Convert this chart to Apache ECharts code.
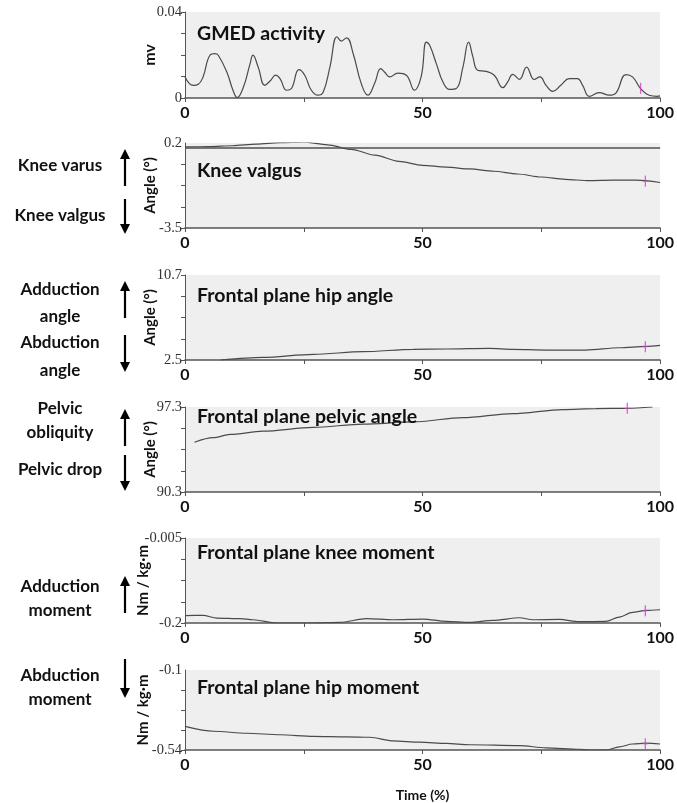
<!DOCTYPE html>
<html><head><meta charset="utf-8">
<script src="https://cdn.jsdelivr.net/npm/echarts@6/dist/echarts.min.js"></script>
<style>html,body{margin:0;padding:0;background:#fff}#c{width:677px;height:803px}</style>
</head><body><div id="c"></div>
<script>
// ---------- data ----------
const xTickValues = [0, 25, 50, 75, 100];
const xLabelValues = [0, 50, 100];
const titles = ['GMED activity', 'Knee valgus', 'Frontal plane hip angle', 'Frontal plane pelvic angle', 'Frontal plane knee moment', 'Frontal plane hip moment'];
const yNames = ['mv', 'Angle (°)', 'Angle (°)', 'Angle (°)', 'Nm / kg·m', 'Nm / kg·m'];
const yMin = [0, -3.5, 2.5, 90.3, -0.2, -0.54];
const yMax = [0.04, 0.2, 10.7, 97.3, -0.005, -0.1];
const yMinLabels = ['0', '-3.5', '2.5', '90.3', '-0.2', '-0.54'];
const yMaxLabels = ['0.04', '0.2', '10.7', '97.3', '-0.005', '-0.1'];
const xAxisName = 'Time (%)';

const gmed = [[0,0.0098],[1.75,0.0059],[2.8,0.0064],[3.8,0.0098],[5.25,0.0199],[6.3,0.0206],[7.0,0.0199],[8.8,0.0121],[10.1,0.0036],[11,0.0002],[12.3,0.0051],[13.7,0.016],[14.3,0.0199],[15.4,0.0144],[16.8,0.0059],[17.9,0.0079],[19.1,0.0106],[20,0.009],[21.4,0.0036],[22.4,0.0044],[24,0.0132],[25.2,0.0106],[26.6,0.0036],[28,0.0013],[29.1,0.0028],[30.5,0.0144],[32,0.0285],[32.9,0.0265],[34,0.028],[35.4,0.0206],[37.1,0.0067],[38.5,0.0013],[39.9,0.0067],[41.2,0.0137],[42,0.0121],[43.1,0.0098],[44.8,0.0116],[46.6,0.0106],[48.3,0.0036],[49.7,0.0098],[50.8,0.026],[51.5,0.0245],[52.9,0.016],[54.3,0.0074],[55.7,0.004],[57.1,0.0044],[58.5,0.0144],[59.7,0.026],[60.6,0.0191],[61.6,0.0129],[63.4,0.0124],[65.1,0.0106],[66.9,0.0048],[67.9,0.0074],[69,0.011],[70.4,0.0087],[71.9,0.0144],[73.5,0.0086],[74.7,0.0098],[76,0.0059],[77.4,0.0031],[79.1,0.0059],[80.9,0.009],[82.6,0.009],[83.7,0.0059],[85.1,0.0008],[87.2,0.0025],[89.3,0.0013],[90.7,0.0023],[92.8,0.0109],[94.2,0.0098],[95.9,0.0044],[97.7,0.0013],[99.4,0.0008],[100,0.001]];
const kneeAngleX = [0,5,10,15,20,25,30,35,40,45,50,55,60,65,70,75,80,85,90,95,100];
const kneeAngle = [0.03,0.04,0.08,0.15,0.22,0.24,0.12,-0.08,-0.33,-0.6,-0.77,-0.85,-0.93,-1.03,-1.15,-1.28,-1.38,-1.44,-1.42,-1.42,-1.52];
const kneeRefValue = 0;
const hipAngle = [[7.5,2.5],[16.4,2.76],[27,3.05],[37.5,3.3],[48,3.53],[55,3.56],[64,3.62],[69,3.53],[76,3.46],[84.4,3.46],[91.4,3.68],[97,3.82],[100,3.92]];
const pelvicAngle = [[2,94.4],[5.9,94.77],[9.5,95.04],[16.4,95.31],[27,95.62],[37.5,95.89],[48,96.07],[58.5,96.43],[69,96.76],[79.5,97.09],[86.5,97.17],[93.1,97.19],[98.4,97.3]];
const kneeMoment = [[0,-0.183],[3.8,-0.1826],[6.7,-0.1886],[11.6,-0.19],[14.3,-0.1925],[19.3,-0.2],[27,-0.2],[32.6,-0.1986],[38.2,-0.19],[43.8,-0.1925],[50.1,-0.1909],[55,-0.1963],[59.9,-0.1986],[64.8,-0.194],[70.4,-0.1879],[73.2,-0.1925],[78.8,-0.1918],[83,-0.197],[88.6,-0.1963],[91.4,-0.1863],[94.2,-0.1758],[97,-0.1712],[100,-0.1696]];
const hipMoment = [[0,-0.41],[6,-0.437],[13,-0.448],[20,-0.456],[27,-0.465],[34,-0.468],[38.9,-0.47],[43.8,-0.49],[49.4,-0.497],[55,-0.504],[59.9,-0.511],[70.4,-0.516],[76,-0.528],[83,-0.536],[85,-0.54],[88.6,-0.54],[91.4,-0.523],[94.2,-0.507],[97,-0.502],[100,-0.507]];
const markers = [[95.9,0.0045],[96.9,-1.46],[96.9,3.78],[93.1,97.19],[96.9,-0.172],[96.9,-0.506]];

const sideLabels = [
  ['Knee varus', 60, 166], ['Knee valgus', 60, 216],
  ['Adduction', 60, 290], ['angle', 60, 317], ['Abduction', 60, 343], ['angle', 60, 371],
  ['Pelvic', 60, 409], ['obliquity', 60, 433], ['Pelvic drop', 60, 470],
  ['Adduction', 60, 587], ['moment', 60, 611],
  ['Abduction', 60, 676], ['moment', 60, 700]
];
const arrows = [[125,149,186,'up'],[125,199,234,'down'],[125,281,318,'up'],[125,335,372,'down'],[125,409,446,'up'],[125,455,491,'down'],[125,576,613,'up'],[125,659,698,'down']];

// ---------- layout ----------
const gridLeft = 185, gridWidth = 476;
const tops = [12, 143, 275, 407, 538, 670];
const heights = [86, 85, 85, 85, 85, 86];
const titleY = [36, 173, 298, 419, 555, 690];
const nameGaps = [27, 27, 27, 27, 34, 34];
const LINE = '#4a4a4a';
const AX = '#555';
const SANS = 'Lato, "Open Sans", sans-serif';
const SERIF = '"Liberation Serif", "DejaVu Serif", serif';

const seriesData = [
  gmed,
  kneeAngleX.map((x, i) => [x, kneeAngle[i]]),
  hipAngle, pelvicAngle, kneeMoment, hipMoment
];

const grids = [], xAxes = [], yAxes = [], series = [];
for (let i = 0; i < 6; i++) {
  grids.push({ left: gridLeft, width: gridWidth, top: tops[i], height: heights[i], show: true, backgroundColor: '#efefef', borderWidth: 0 });
  const isLast = i === 5;
  xAxes.push({
    type: 'value', gridIndex: i, min: 0, max: 100, interval: 25,
    axisLine: { show: true, onZero: false, lineStyle: { color: AX, width: 1.5 } },
    axisTick: { show: true, length: 4, lineStyle: { color: AX } },
    splitLine: { show: false },
    axisLabel: { margin: 7, fontFamily: SANS, fontWeight: 'bold', fontSize: 16, color: '#111',
      formatter: v => xLabelValues.indexOf(v) >= 0 ? String(v) : '' },
    name: isLast ? xAxisName : '', nameLocation: 'middle', nameGap: 38, nameMoveOverlap: false,
    nameTextStyle: { fontFamily: SANS, fontWeight: 'bold', fontSize: 14, color: '#111' }
  });
  const step = (yMax[i] - yMin[i]) / 4;
  const tickVals = [0,1,2,3,4].map(k => yMin[i] + step * k);
  yAxes.push({
    type: 'value', gridIndex: i, min: yMin[i], max: yMax[i],
    axisLine: { show: true, onZero: false, lineStyle: { color: AX, width: 1 } },
    axisTick: { show: true, length: 4, customValues: tickVals, lineStyle: { color: AX } },
    splitLine: { show: false },
    axisLabel: { margin: 3, fontFamily: SERIF, fontSize: 14.5, color: '#333', customValues: [yMin[i], yMax[i]],
      formatter: v => Math.abs(v - yMin[i]) < step / 10 ? yMinLabels[i] : yMaxLabels[i] },
    name: yNames[i], nameLocation: 'middle', nameGap: nameGaps[i], nameMoveOverlap: false,
    nameTextStyle: { fontFamily: SANS, fontWeight: 'bold', fontSize: i === 0 ? 16 : 15, color: '#111' }
  });
  const s = {
    type: 'line', xAxisIndex: i, yAxisIndex: i, data: seriesData[i], showSymbol: false,
    smooth: i === 0 ? 0.45 : 0.3, clip: true, silent: true,
    lineStyle: { color: LINE, width: 1.2 }, z: 3
  };
  if (i !== 0) s.smoothMonotone = 'x';
  if (i === 1) {
    s.markLine = { silent: true, symbol: 'none', label: { show: false },
      lineStyle: { color: '#505050', width: 1.5, type: 'solid' }, data: [{ yAxis: kneeRefValue }] };
  }
  series.push(s);
  series.push({
    type: 'scatter', xAxisIndex: i, yAxisIndex: i, silent: true, z: 4,
    symbol: 'rect', itemStyle: { color: '#d040c8' },
    data: [{ value: markers[i], symbolSize: [1.3, 11] }].concat(i === 0 ? [] : [{ value: markers[i], symbolSize: [6, 1] }])
  });
}

const graphic = [];
titles.forEach((t, i) => graphic.push({ type: 'text', left: 197, top: titleY[i] - 12, z: 10,
  style: { text: t, font: 'bold 19.5px ' + SANS, fill: '#111' } }));
sideLabels.forEach(([t, x, y]) => graphic.push({ type: 'text', x: x, y: y, z: 10,
  style: { text: t, font: 'bold 17px ' + SANS, fill: '#111', align: 'center', verticalAlign: 'middle' } }));
arrows.forEach(([x, y1, y2, dir]) => {
  const tip = dir === 'up' ? y1 : y2;
  const s = dir === 'up' ? 1 : -1;
  graphic.push({ type: 'line', z: 10, shape: { x1: x, y1: dir === 'up' ? y1 + 6 : y1, x2: x, y2: dir === 'up' ? y2 : y2 - 6 }, style: { stroke: '#000', lineWidth: 2.2 } });
  graphic.push({ type: 'polygon', z: 10, shape: { points: [[x - 5, tip + s * 10], [x, tip], [x + 5, tip + s * 10]] }, style: { fill: '#000' } });
});

const chart = echarts.init(document.getElementById('c'), null, { renderer: 'canvas' });
chart.setOption({ animation: false, backgroundColor: '#fff', grid: grids, xAxis: xAxes, yAxis: yAxes, series: series, graphic: graphic });
</script></body></html>
